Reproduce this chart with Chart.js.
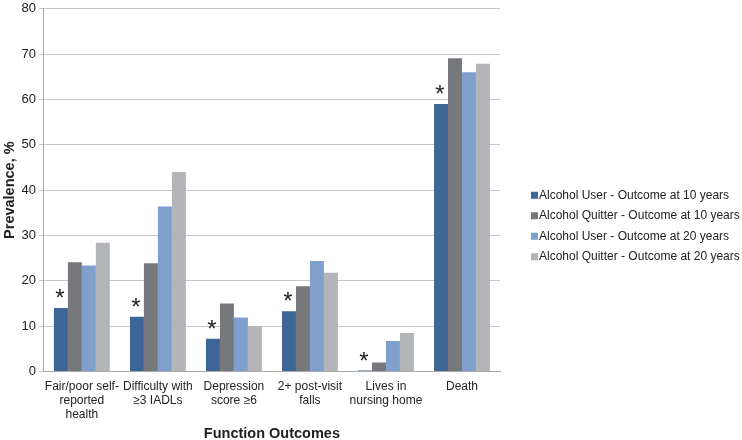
<!DOCTYPE html>
<html>
<head>
<meta charset="utf-8">
<script src="https://cdn.jsdelivr.net/npm/chart.js@4/dist/chart.umd.min.js"></script>
<style>
html,body{margin:0;padding:0;background:#fff;}
#wrap{width:742px;height:440px;position:relative;}
</style>
</head>
<body>
<div id="wrap"><canvas id="c" width="742" height="440"></canvas></div>
<script>
const categories = [
  ["Fair/poor self-","reported","health"],
  ["Difficulty with","\u22653 IADLs"],
  ["Depression","score \u22656"],
  ["2+ post-visit","falls"],
  ["Lives in","nursing home"],
  ["Death"]
];
const seriesNames = [
  "Alcohol User - Outcome at 10 years",
  "Alcohol Quitter - Outcome at 10 years",
  "Alcohol User - Outcome at 20 years",
  "Alcohol Quitter - Outcome at 20 years"
];
const userAt10 = [14.0, 12.1, 7.2, 13.3, 0.2, 59.0];
const quitterAt10 = [24.1, 23.9, 15.0, 18.8, 2.0, 69.1];
const userAt20 = [23.4, 36.4, 11.9, 24.4, 6.7, 66.0];
const quitterAt20 = [28.4, 44.0, 10.0, 21.8, 8.5, 67.9];
const significant = [true, true, true, true, true, true];
const yTicks = [0,10,20,30,40,50,60,70,80];

const colors = ["#3d6596", "#77787b", "#7f9fcd", "#b3b5b8"];
const FONT = "'Liberation Sans', Arial, sans-serif";

const starPlugin = {
  id: 'stars',
  afterDatasetsDraw(chart) {
    const meta = chart.getDatasetMeta(0);
    const ctx = chart.ctx;
    ctx.save();
    ctx.fillStyle = '#222';
    ctx.font = "24px " + FONT;
    ctx.textAlign = 'center';
    ctx.textBaseline = 'alphabetic';
    meta.data.forEach((bar, i) => {
      if (significant[i]) ctx.fillText('*', bar.x - 1, bar.y - 2);
    });
    ctx.restore();
  }
};

const legendPlugin = {
  id: 'sideLegend',
  afterDraw(chart) {
    const ctx = chart.ctx;
    const ds = chart.data.datasets;
    const rowH = 20.5;
    const x0 = chart.chartArea.right + 31;
    const yc = chart.height / 2 + 6;
    const y0 = yc - (ds.length - 1) * rowH / 2;
    ctx.save();
    ctx.font = "12px " + FONT;
    ctx.textBaseline = 'middle';
    ctx.textAlign = 'left';
    ds.forEach((d, i) => {
      const y = y0 + i * rowH;
      ctx.fillStyle = d.backgroundColor;
      ctx.fillRect(x0, y - 3.5, 7, 7);
      ctx.fillStyle = '#222';
      ctx.fillText(d.label, x0 + 8, y);
    });
    ctx.restore();
  }
};

new Chart(document.getElementById('c'), {
  type: 'bar',
  data: {
    labels: categories,
    datasets: [
      {label: seriesNames[0], data: userAt10, backgroundColor: colors[0]},
      {label: seriesNames[1], data: quitterAt10, backgroundColor: colors[1]},
      {label: seriesNames[2], data: userAt20, backgroundColor: colors[2]},
      {label: seriesNames[3], data: quitterAt20, backgroundColor: colors[3]}
    ]
  },
  options: {
    responsive: false,
    animation: false,
    layout: {padding: {top: 0, left: 0, right: 242, bottom: -3}},
    datasets: {bar: {categoryPercentage: 0.735, barPercentage: 1.0}},
    plugins: {
      legend: {display: false},
      tooltip: {enabled: false}
    },
    scales: {
      x: {
        grid: {display: false, drawTicks: false, tickLength: 0},
        border: {color: '#a9a9a9'},
        ticks: {color: '#222', font: {family: FONT, size: 12, lineHeight: 1.17}, maxRotation: 0, autoSkip: false, padding: 8},
        title: {display: true, text: 'Function Outcomes', color: '#222', font: {family: FONT, size: 14.5, weight: 'bold'}, padding: {top: -4, bottom: 0}}
      },
      y: {
        min: 0, max: 80,
        afterBuildTicks(axis) { axis.ticks = yTicks.map(v => ({value: v})); },
        grid: {color: '#c6c6c6', tickLength: 5, drawTicks: true},
        border: {color: '#a9a9a9'},
        ticks: {color: '#222', font: {family: FONT, size: 13, lineHeight: 0.9}, padding: 3},
        title: {display: true, text: 'Prevalence, %', color: '#222', font: {family: FONT, size: 14.5, weight: 'bold'}, padding: {top: 1, bottom: 0}}
      }
    }
  },
  plugins: [starPlugin, legendPlugin]
});
</script>
</body>
</html>
